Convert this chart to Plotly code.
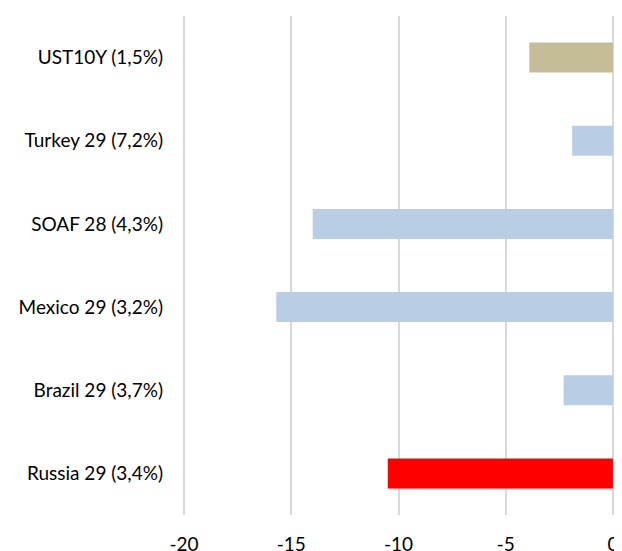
import plotly.graph_objects as go

categories = ["UST10Y (1,5%)", "Turkey 29 (7,2%)", "SOAF 28 (4,3%)",
              "Mexico 29 (3,2%)", "Brazil 29 (3,7%)", "Russia 29 (3,4%)"]
values = [-3.9, -1.9, -14.0, -15.7, -2.3, -10.5]
colors = ["#C4BD97", "#B9CDE5", "#B9CDE5", "#B9CDE5", "#B9CDE5", "#FF0000"]
x_ticks = [-20, -15, -10, -5, 0]

fig = go.Figure(go.Bar(
    y=categories, x=values, orientation="h",
    marker=dict(color=colors, line=dict(width=0)),
))

# page body adds an 8px margin, so the figure is sized to fit inside the window
fig.update_layout(
    width=614, height=543,
    margin=dict(l=175, r=8, t=8, b=36),
    plot_bgcolor="white", paper_bgcolor="white",
    bargap=0.64,
    showlegend=False,
    font=dict(family="Lato", size=19, color="#000000"),
)
fig.update_xaxes(
    range=[-20.05, 0.05], tickvals=x_ticks, ticktext=[str(v) for v in x_ticks],
    showgrid=True, gridcolor="#D9D9D9", gridwidth=2,
    zeroline=True, zerolinecolor="#D9D9D9", zerolinewidth=2,
    showline=False, ticks="", ticklabelstandoff=16, automargin=False,
)
fig.update_yaxes(
    categoryorder="array", categoryarray=categories, autorange="reversed",
    showgrid=False, showline=False, ticks="", ticklabelstandoff=19,
    automargin=False,
)

fig.write_html("out.html")
